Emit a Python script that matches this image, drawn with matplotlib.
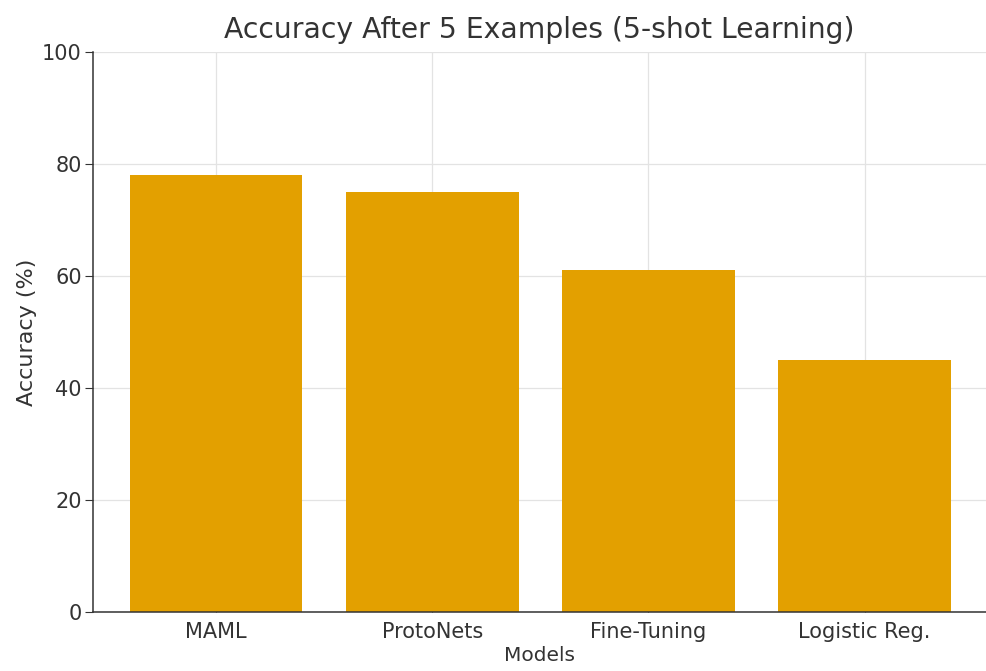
import matplotlib
matplotlib.use("Agg")
import matplotlib.pyplot as plt

models = ["MAML", "ProtoNets", "Fine-Tuning", "Logistic Reg."]
accuracy = [78, 75, 61, 45]
y_ticks = [0, 20, 40, 60, 80, 100]

bar_color = "#E3A000"
text_color = "#333333"

plt.rcParams["font.family"] = ["DejaVu Sans"]

fig = plt.figure(figsize=(9.86, 6.71), dpi=100)
ax = fig.add_axes([93 / 986, (671 - 612) / 671, (986 - 93) / 986, (612 - 52) / 671])

x = range(len(models))
ax.bar(x, accuracy, width=0.8, color=bar_color, zorder=2)

ax.set_xticks(list(x))
ax.set_xticklabels(models, fontsize=15, color=text_color)
ax.set_yticks(y_ticks)
ax.set_yticklabels([str(v) for v in y_ticks], fontsize=15, color=text_color)
ax.set_ylim(0, 100)
ax.set_xlim(-0.569, 3.562)

ax.grid(True, color="#e3e3e3", linewidth=0.9, zorder=0)
ax.set_axisbelow(True)

for side in ("top", "right"):
    ax.spines[side].set_visible(False)
for side in ("left", "bottom"):
    ax.spines[side].set_color("#333333")
    ax.spines[side].set_linewidth(1.1)

ax.tick_params(axis="y", length=6, color="#333333", pad=2)
ax.tick_params(axis="x", length=3, direction="in", color="#333333", pad=7)

ax.set_title("Accuracy After 5 Examples (5-shot Learning)", fontsize=20.3, color=text_color, pad=10)
ax.set_xlabel("Models", fontsize=14.5, color=text_color, labelpad=3)
ax.set_ylabel("Accuracy (%)", fontsize=16, color=text_color, labelpad=4)

fig.savefig("out.png", dpi=100)
